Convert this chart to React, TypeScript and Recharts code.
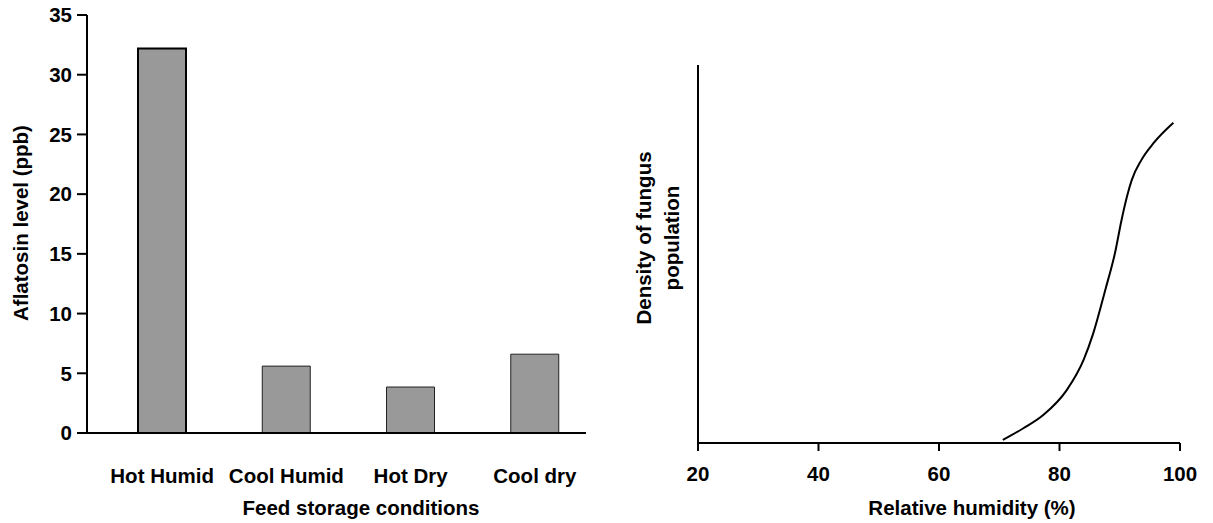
import React from 'react';
import { BarChart, Bar, XAxis, YAxis, Cell, LineChart, Line, Label } from 'recharts';

// ---- Left chart data ----
const conditions = ['Hot Humid', 'Cool Humid', 'Hot Dry', 'Cool dry'];
const aflatoxinPpb = [32.2, 5.6, 3.85, 6.6];
const aflatoxinTicks = [0, 5, 10, 15, 20, 25, 30, 35];

// ---- Right chart data ----
const relativeHumidity = [70.6, 74, 77.3, 81.2, 84, 85.6, 87.6, 89.2, 90.3, 91.2, 92, 93.6, 95.6, 98.9];
const fungusDensity = [0.8, 3.9, 7.4, 14, 22, 29, 40.5, 50.2, 59, 65.2, 69.6, 74.9, 79.3, 84.7];
const humidityTicks = [20, 40, 60, 80, 100];

const barData = conditions.map((name, i) => ({ name, value: aflatoxinPpb[i] }));
const lineData = relativeHumidity.map((rh, i) => ({ rh, density: fungusDensity[i] }));

const FONT = '"Liberation Sans", Arial, Helvetica, sans-serif';
const FS = 20.5;
const FW = 'bold';
const tickStyle = { fill: '#000', fontSize: FS, fontFamily: FONT, fontWeight: FW };

const HTitle = (dx: number, baselineDy: number, text: string) => (props: any) => {
  const vb = props.viewBox || {};
  return (
    <text
      x={vb.x + vb.width / 2 + dx}
      y={vb.y + baselineDy}
      textAnchor="middle"
      fill="#000"
      fontSize={FS}
      fontFamily={FONT}
      fontWeight={FW}
    >
      {text}
    </text>
  );
};

const VTitle = (xs: number[], dy: number, lines: string[]) => (props: any) => {
  const vb = props.viewBox || {};
  const cy = vb.y + vb.height / 2 + dy;
  return (
    <g>
      {lines.map((l, i) => (
        <text
          key={i}
          x={vb.x + xs[i]}
          y={cy}
          transform={`rotate(-90, ${vb.x + xs[i]}, ${cy})`}
          textAnchor="middle"
          dominantBaseline="central"
          fill="#000"
          fontSize={FS}
          fontFamily={FONT}
          fontWeight={FW}
        >
          {l}
        </text>
      ))}
    </g>
  );
};

export default function App() {
  return (
    <div style={{ position: 'absolute', left: 0, top: 0, width: 1213, height: 523, background: '#fff' }}>
      <div style={{ position: 'absolute', left: 0, top: 0 }}>
        <BarChart width={600} height={523} data={barData} margin={{ top: 15, right: 14, bottom: 0, left: 0 }}>
          <XAxis
            dataKey="name"
            height={90}
            padding={{ left: 13, right: -11 }}
            tickLine={false}
            tickSize={0}
            tickMargin={35}
            axisLine={{ stroke: '#000', strokeWidth: 2 }}
            tick={tickStyle}
            interval={0}
          >
            <Label content={HTitle(24.5, 82, 'Feed storage conditions')} />
          </XAxis>
          <YAxis
            width={87}
            domain={[0, 35]}
            ticks={aflatoxinTicks}
            interval={0}
            tickSize={10}
            tickMargin={5}
            tickLine={{ stroke: '#000', strokeWidth: 2 }}
            axisLine={{ stroke: '#000', strokeWidth: 2 }}
            tick={tickStyle}
          >
            <Label content={VTitle([20], -1, ['Aflatosin level (ppb)'])} />
          </YAxis>
          <Bar dataKey="value" fill="#999999" barSize={48} isAnimationActive={false}>
            {barData.map((d, i) => (
              <Cell
                key={d.name}
                fill="#999999"
                stroke={i === 0 ? '#000' : '#222'}
                strokeWidth={i === 0 ? 2 : 1}
              />
            ))}
          </Bar>
        </BarChart>
      </div>
      <div style={{ position: 'absolute', left: 600, top: 0 }}>
        <LineChart width={613} height={523} data={lineData} margin={{ top: 65, right: 33, bottom: 0, left: 0 }}>
          <XAxis
            type="number"
            dataKey="rh"
            domain={[20, 100]}
            ticks={humidityTicks}
            interval={0}
            height={80}
            tickSize={8}
            tickMargin={15}
            tickLine={{ stroke: '#000', strokeWidth: 2 }}
            axisLine={{ stroke: '#000', strokeWidth: 2 }}
            tick={tickStyle}
          >
            <Label content={HTitle(33, 72, 'Relative humidity (%)')} />
          </XAxis>
          <YAxis
            width={98}
            domain={[0, 100]}
            tick={false}
            tickLine={false}
            axisLine={{ stroke: '#000', strokeWidth: 2 }}
          >
            <Label content={VTitle([43, 71], -16, ['Density of fungus', 'population'])} />
          </YAxis>
          <Line
            type="monotone"
            dataKey="density"
            stroke="#000"
            strokeWidth={2}
            dot={false}
            isAnimationActive={false}
          />
        </LineChart>
      </div>
    </div>
  );
}
